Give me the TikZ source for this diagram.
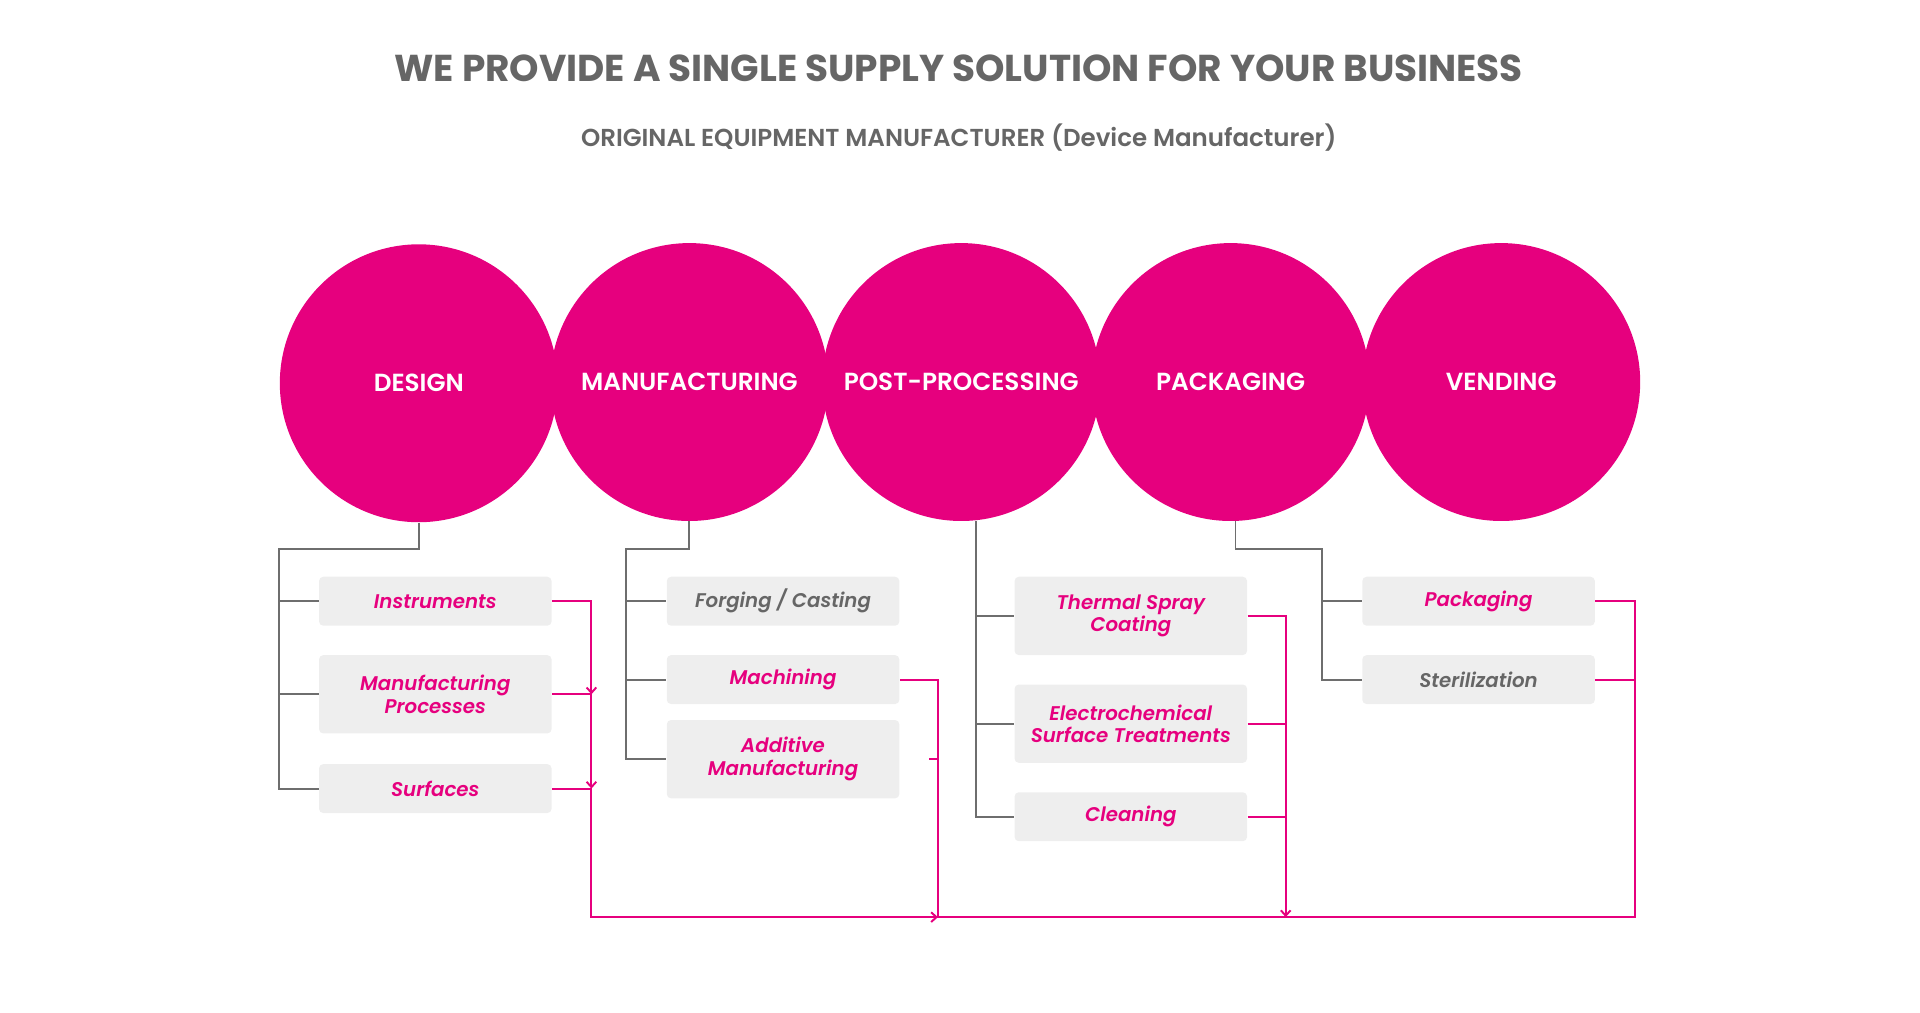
\documentclass[tikz,border=0pt]{standalone}
\usepackage{fontspec}
\setmainfont{Poppins}
\newfontfamily\itemfont{Poppins}[UprightFont=* SemiBold, ItalicFont=* SemiBold Italic]
\usetikzlibrary{arrows.meta}
\definecolor{brand}{HTML}{E6007E}
\definecolor{txtgray}{HTML}{666666}
\definecolor{linegray}{HTML}{6E6E6E}
\definecolor{boxgray}{HTML}{EEEEEE}

\begin{document}
\begin{tikzpicture}[x=0.02cm, y=-0.02cm,
    stage/.style={circle, fill=brand, minimum size=4.54cm, inner sep=0pt, text=white,
      font=\itemfont\fontsize{11.5}{12}\selectfont},
    item/.style={fill=boxgray, rounded corners=2pt, minimum width=3.8cm, minimum height=0.8cm,
      align=center, text=brand, font=\itemfont\itshape\fontsize{9.2}{10.5}\selectfont},
    tall/.style={minimum height=1.28cm},
    greytext/.style={text=txtgray},
    treeline/.style={draw=linegray, line width=0.9pt},
    flowline/.style={draw=brand, line width=0.9pt},
    flowtip/.style={-{Straight Barb[length=2.5pt,width=4.5pt]}}
  ]
  \useasboundingbox (0,0) rectangle (1568,827);

  \node[text=txtgray, font=\bfseries\fontsize{17.4}{19}\selectfont] (title) at (783,56)
    {WE PROVIDE A SINGLE SUPPLY SOLUTION FOR YOUR BUSINESS};
  \node[text=txtgray, font=\itemfont\fontsize{11.4}{13}\selectfont] (subtitle) at (783,112)
    {ORIGINAL EQUIPMENT MANUFACTURER (Device Manufacturer)};

  \node[stage] (design) at (342,313) {DESIGN};
  \node[stage] (manuf) at (563,312) {MANUFACTURING};
  \node[stage] (post) at (785,312) {POST-PROCESSING};
  \node[stage] (pack) at (1005,312) {PACKAGING};
  \node[stage] (vend) at (1226,312) {VENDING};

  \node[item] (inst) at (355.5,491) {Instruments};
  \node[item, tall] (proc) at (355.5,567) {Manufacturing\\Processes};
  \node[item] (surf) at (355.5,644) {Surfaces};

  \node[item, greytext] (forge) at (639.5,491) {Forging / Casting};
  \node[item] (mach) at (639.5,555) {Machining};
  \node[item, tall] (addm) at (639.5,620) {Additive\\Manufacturing};

  \node[item, tall] (thermal) at (923.5,503) {Thermal Spray\\Coating};
  \node[item, tall] (electro) at (923.5,591) {Electrochemical\\Surface Treatments};
  \node[item] (clean) at (923.5,667) {Cleaning};

  \node[item] (packg) at (1207.5,491) {Packaging};
  \node[item, greytext] (steril) at (1207.5,555) {Sterilization};

  \coordinate (d0) at (228,448);
  \coordinate (m0) at (511,448);
  \coordinate (k0) at (1080,448);
  \draw[treeline] (design.south) |- (d0) |- (surf.west);
  \draw[treeline] (d0 |- inst.west) -- (inst.west);
  \draw[treeline] (d0 |- proc.west) -- (proc.west);
  \draw[treeline] (manuf.south) |- (m0) |- (addm.west);
  \draw[treeline] (m0 |- forge.west) -- (forge.west);
  \draw[treeline] (m0 |- mach.west) -- (mach.west);
  \draw[treeline] (post.-84) |- (clean.west);
  \draw[treeline] (post.-84 |- thermal.west) -- (thermal.west);
  \draw[treeline] (post.-84 |- electro.west) -- (electro.west);
  \draw[treeline] (pack.-88) |- (k0) |- (steril.west);
  \draw[treeline] (k0 |- packg.west) -- (packg.west);

  \coordinate (b1) at (483,749);
  \coordinate (b2) at (766,749);
  \coordinate (b3) at (1050,749);
  \coordinate (b4) at (1335,749);
  \draw[flowline, flowtip] (inst.east) -| (b1 |- proc.east);
  \draw[flowline] (proc.east) -- (b1 |- proc.east);
  \draw[flowline, flowtip] (b1 |- proc.east) -- (b1 |- surf.east);
  \draw[flowline, flowtip] (surf.east) -| (b1) -- (b2);
  \draw[flowline] (mach.east) -| (b2) -- (b3);
  \draw[flowline] (b2 |- addm.east) -- ++(-7,0);
  \draw[flowline, flowtip] (thermal.east) -| (b3);
  \draw[flowline] (electro.east) -- (b3 |- electro.east);
  \draw[flowline] (clean.east) -- (b3 |- clean.east);
  \draw[flowline] (packg.east) -| (b4) -- (b3);
  \draw[flowline] (steril.east) -- (b4 |- steril.east);
\end{tikzpicture}
\end{document}
